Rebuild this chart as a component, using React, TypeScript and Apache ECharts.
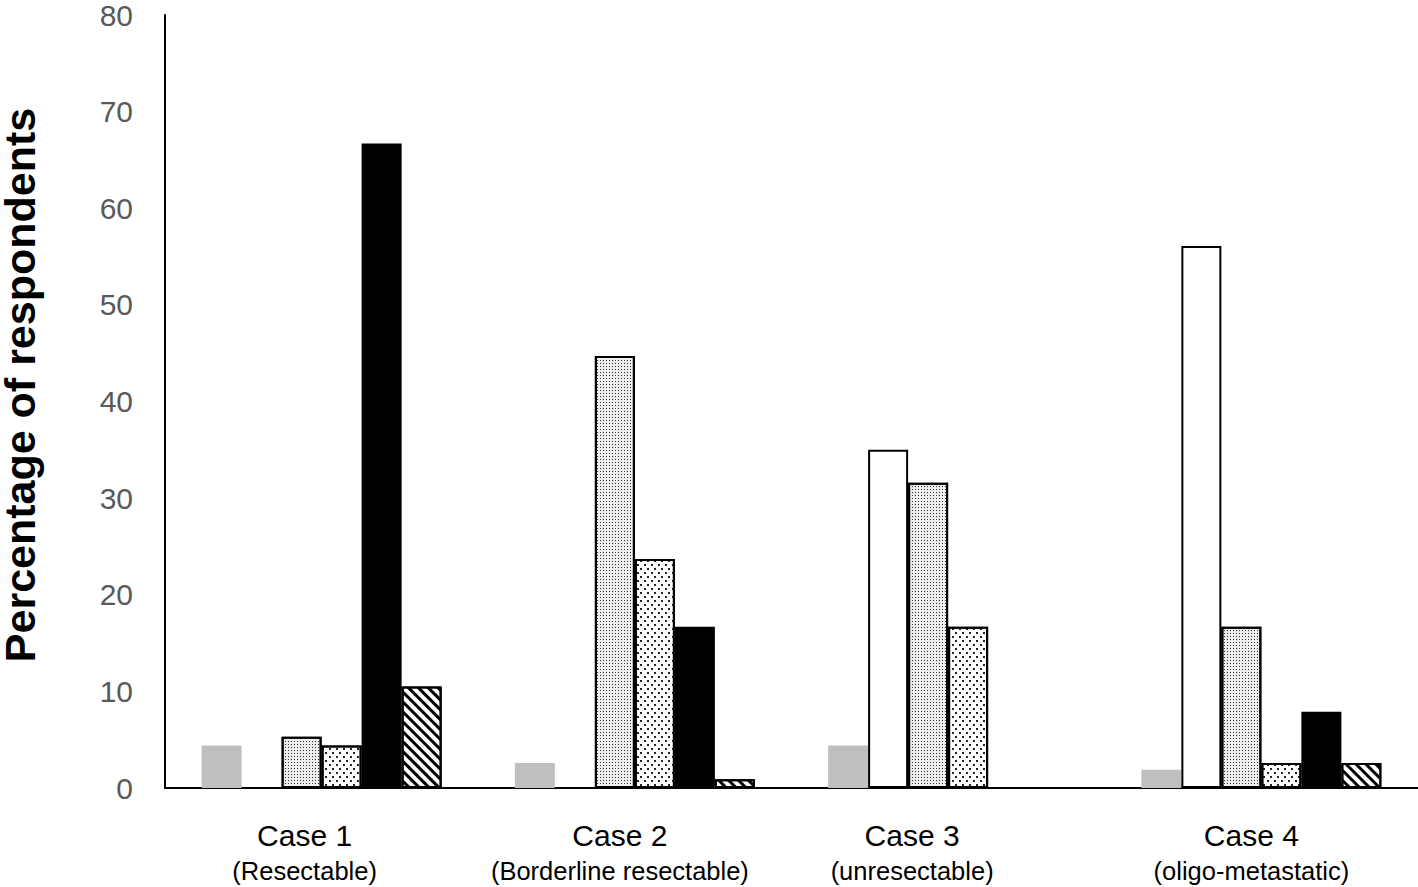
import React, { useEffect, useRef } from "react";
import * as echarts from "echarts";

const categories = ["Case 1", "Case 2", "Case 3", "Case 4"];
const subtitles = ["(Resectable)", "(Borderline resectable)", "(unresectable)", "(oligo-metastatic)"];
const yTicks = [0, 10, 20, 30, 40, 50, 60, 70, 80];

const grayValues = [4.4, 2.6, 4.4, 1.9];
const whiteValues = [0, 0, 35.0, 56.1];
const denseDotValues = [5.3, 44.7, 31.6, 16.7];
const lightDotValues = [4.4, 23.7, 16.7, 2.6];
const blackValues = [66.7, 16.7, 0, 7.9];
const hatchValues = [10.5, 0.9, 0, 2.6];

// label shift to the left (the original labels sit slightly left of the group centres)
const labelShift = [34, 30, 72, 20];

export default function App() {
  const ref = useRef<HTMLDivElement>(null);
  useEffect(() => {
    if (!ref.current) return;
    const chart = echarts.init(ref.current, null, { renderer: "svg" });
    const border = { borderColor: "#000", borderWidth: 2 };
    const base = { type: "bar", barWidth: 40, barGap: "0%", silent: true };
    const rich: Record<string, any> = {};
    labelShift.forEach((s, i) => {
      rich["a" + i] = {
        fontFamily: "Liberation Sans",
        fontSize: 30,
        color: "#000",
        lineHeight: 40,
        padding: [0, s, 0, 0],
      };
      rich["b" + i] = {
        fontFamily: "Liberation Sans",
        fontSize: 25.5,
        color: "#000",
        lineHeight: 32,
        padding: [0, s, 0, 0],
      };
    });
    chart.setOption({
      animation: false,
      grid: { left: 165, right: 0, top: 13, bottom: 99, containLabel: false },
      xAxis: {
        type: "category",
        data: categories,
        axisLine: { lineStyle: { color: "#000", width: 2 } },
        axisTick: { show: false },
        axisLabel: {
          margin: 27,
          interval: 0,
          formatter: (v: string, i: number) => `{a${i}|${v}}\n{b${i}|${subtitles[i]}}`,
          rich,
        },
      },
      yAxis: {
        type: "value",
        min: 0,
        max: 80,
        interval: 10,
        axisLine: { show: true, lineStyle: { color: "#000", width: 2 } },
        axisTick: { show: false },
        splitLine: { show: false },
        axisLabel: {
          margin: 32,
          fontFamily: "Liberation Sans",
          fontSize: 30,
          color: "#595959",
          formatter: (v: number) => (yTicks.includes(v) ? String(v) : ""),
        },
      },
      graphic: [
        {
          type: "text",
          x: 20,
          y: 385,
          rotation: Math.PI / 2,
          style: {
            text: "Percentage of respondents",
            font: "bold 43px 'Liberation Sans'",
            fill: "#000",
            align: "center",
            verticalAlign: "middle",
          },
        },
      ],
      series: [
        { ...base, name: "A", data: grayValues, itemStyle: { color: "#bfbfbf" } },
        { ...base, name: "B", data: whiteValues, itemStyle: { color: "#fff", ...border } },
        {
          ...base,
          name: "C",
          data: denseDotValues,
          itemStyle: {
            color: "#eeeeee",
            ...border,
            decal: { symbol: "rect", symbolSize: 1, dashArrayX: [1, 2], dashArrayY: [1, 2], color: "#333" },
          },
        },
        {
          ...base,
          name: "D",
          data: lightDotValues,
          itemStyle: {
            color: "#fff",
            ...border,
            decal: {
              symbol: "rect",
              symbolSize: 1,
              dashArrayX: [[1.5, 4.5], [0, 3, 1.5, 1.5]],
              dashArrayY: [1.5, 1.5],
              color: "#222",
            },
          },
        },
        { ...base, name: "E", data: blackValues, itemStyle: { color: "#000", ...border } },
        {
          ...base,
          name: "F",
          data: hatchValues,
          itemStyle: {
            color: "#fff",
            ...border,
            decal: {
              symbol: "rect",
              symbolSize: 1,
              dashArrayX: [1, 0],
              dashArrayY: [3, 4],
              rotation: Math.PI / 4,
              color: "#000",
            },
          },
        },
      ],
    });
    return () => chart.dispose();
  }, []);
  return (
    <div
      ref={ref}
      style={{ position: "absolute", left: 0, top: 0, width: 1418, height: 887, background: "#fff" }}
    />
  );
}
